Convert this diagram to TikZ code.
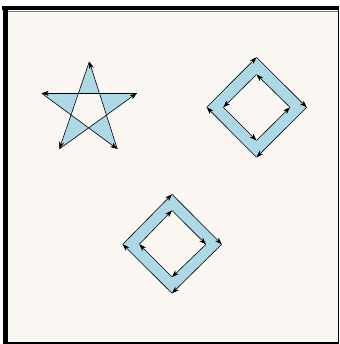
\documentclass[tikz,border=0pt]{standalone}
\usepackage{xcolor}
\usepackage{tikz}
\usetikzlibrary{arrows.meta}
\definecolor{Paper}{HTML}{FAF7F2}
\definecolor{Shade}{HTML}{ADD8E6}
\definecolor{Frame}{HTML}{000000}

\begin{document}
\begin{tikzpicture}[x=1pt,y=-1pt,
  region/.style={fill=Shade,even odd rule},
  edge/.style={-{Stealth[length=7pt,width=5pt,inset=2pt]},line width=0.6pt,draw=black}
]
  \useasboundingbox (0,0) rectangle (339,344);
  % paper and frame
  \fill[Paper] (7,10) rectangle (338,343);
  \fill[Frame] (2,6) rectangle (339,10.5);
  \fill[Frame] (3,6) rectangle (7.5,344);
  \fill[Frame] (7,342) rectangle (339,344);
  \fill[Frame] (337.6,6) rectangle (339,344);
  \draw[gray,line width=0.6pt] (7.5,11) -- (337.6,11);
  % star
  \coordinate (st) at (89.3,61.7);
  \coordinate (sl) at (41.7,93.3);
  \coordinate (sr) at (136.7,93.3);
  \coordinate (sbl) at (59.3,149);
  \coordinate (sbr) at (117.3,149);
  \fill[region] (st) -- (sbl) -- (sr) -- (sl) -- (sbr) -- cycle;
  \foreach \a/\b in {st/sbl,sbl/sr,sr/sl,sl/sbr,sbr/st}
    \draw[edge] (\a) -- (\b);
  % upper square, inner path reversed
  \coordinate (at) at (256.5,57.3);
  \coordinate (ar) at (306.7,107.3);
  \coordinate (ab) at (256.5,157.3);
  \coordinate (al) at (206.7,107.3);
  \coordinate (ait) at (256.5,74.5);
  \coordinate (air) at (290,107.3);
  \coordinate (aib) at (256.5,140.5);
  \coordinate (ail) at (223.3,107.3);
  \fill[region] (at) -- (ar) -- (ab) -- (al) -- cycle
    (ait) -- (ail) -- (aib) -- (air) -- cycle;
  \foreach \a/\b in {al/at,at/ar,ar/ab,ab/al,ait/ail,ail/aib,aib/air,air/ait}
    \draw[edge] (\a) -- (\b);
  % lower square, both paths clockwise
  \coordinate (bt) at (172,194.3);
  \coordinate (br) at (221.7,244.3);
  \coordinate (bb) at (172,293.3);
  \coordinate (bl) at (122.7,244.3);
  \coordinate (bit) at (172,210.5);
  \coordinate (bir) at (206,244.3);
  \coordinate (bib) at (172,277);
  \coordinate (bil) at (139.3,244.3);
  \fill[region] (bt) -- (br) -- (bb) -- (bl) -- cycle
    (bit) -- (bir) -- (bib) -- (bil) -- cycle;
  \foreach \a/\b in {bl/bt,bt/br,br/bb,bb/bl,bil/bit,bit/bir,bir/bib,bib/bil}
    \draw[edge] (\a) -- (\b);
\end{tikzpicture}
\end{document}
